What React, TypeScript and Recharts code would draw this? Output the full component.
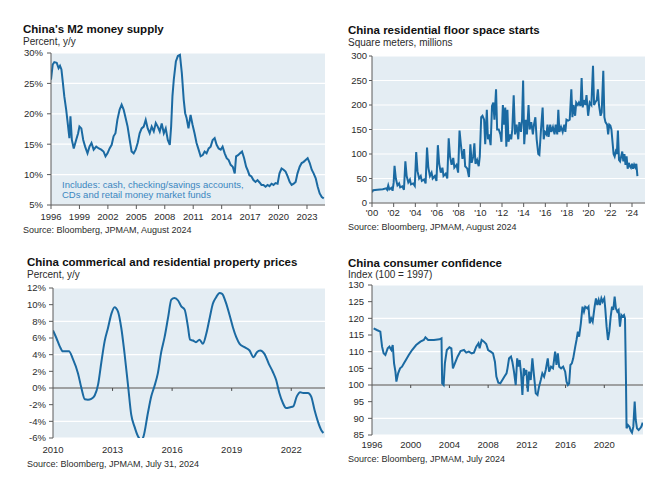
import React from 'react';
import { LineChart, Line, XAxis, YAxis, CartesianGrid, ReferenceLine } from 'recharts';

const FONT = '"Liberation Sans", Arial, Helvetica, sans-serif';
const LINE = '#1b6aa2';
const BG = '#e4edf3';
const AXIS = '#5a5a5a';
const TXT = '#2b2b2b';

// ---------- Panel 1: China's M2 money supply (percent y/y) ----------
const m2Dates = [1996.0, 1996.18, 1996.35, 1996.6, 1996.8, 1996.95, 1997.1, 1997.24, 1997.4, 1997.6, 1997.76, 1997.94, 1998.05, 1998.2, 1998.4, 1998.65, 1998.86, 1999.0, 1999.2, 1999.4, 1999.6, 1999.85, 2000.06, 2000.27, 2000.5, 2000.77, 2001.05, 2001.3, 2001.54, 2001.75, 2001.96, 2002.18, 2002.4, 2002.6, 2002.8, 2003.0, 2003.24, 2003.45, 2003.66, 2003.87, 2004.08, 2004.3, 2004.5, 2004.72, 2004.93, 2005.14, 2005.35, 2005.56, 2005.78, 2005.99, 2006.2, 2006.41, 2006.62, 2006.84, 2007.05, 2007.26, 2007.47, 2007.68, 2007.9, 2008.1, 2008.32, 2008.53, 2008.67, 2008.81, 2008.95, 2009.17, 2009.38, 2009.6, 2009.8, 2010.0, 2010.15, 2010.3, 2010.5, 2010.72, 2010.93, 2011.14, 2011.35, 2011.57, 2011.78, 2012.0, 2012.2, 2012.41, 2012.63, 2012.84, 2013.05, 2013.26, 2013.47, 2013.68, 2013.9, 2014.1, 2014.32, 2014.53, 2014.74, 2014.95, 2015.17, 2015.38, 2015.52, 2015.73, 2015.94, 2016.15, 2016.37, 2016.58, 2016.72, 2016.93, 2017.14, 2017.35, 2017.57, 2017.78, 2018.0, 2018.2, 2018.41, 2018.63, 2018.84, 2019.05, 2019.26, 2019.47, 2019.68, 2019.9, 2020.1, 2020.32, 2020.53, 2020.74, 2020.96, 2021.17, 2021.38, 2021.6, 2021.8, 2022.0, 2022.23, 2022.44, 2022.65, 2022.86, 2023.07, 2023.29, 2023.5, 2023.7, 2023.92, 2024.13, 2024.34, 2024.56, 2024.77];
const m2Values = [25.6, 28.1, 28.5, 28.4, 27.5, 27.9, 27.3, 25.3, 22.9, 20.7, 18.5, 16.0, 19.6, 15.7, 14.3, 15.7, 16.8, 17.9, 17.6, 15.7, 14.6, 13.5, 14.6, 15.2, 14.1, 14.6, 14.3, 14.1, 13.8, 13.0, 13.5, 14.3, 14.9, 16.3, 16.8, 19.0, 20.7, 21.5, 20.7, 19.3, 17.9, 15.7, 13.8, 13.5, 14.1, 15.2, 16.8, 17.6, 17.9, 19.0, 17.6, 16.8, 17.9, 17.1, 18.5, 17.9, 17.1, 18.4, 16.8, 17.6, 15.7, 14.9, 17.9, 22.9, 25.6, 28.6, 29.5, 29.7, 26.7, 22.3, 20.1, 19.3, 17.6, 19.8, 18.2, 16.8, 15.2, 14.1, 13.0, 13.2, 13.8, 13.5, 14.3, 14.6, 15.7, 16.0, 14.9, 14.3, 14.1, 14.6, 13.5, 12.7, 12.4, 11.6, 11.3, 10.2, 13.0, 13.2, 13.5, 13.8, 12.7, 11.3, 10.8, 9.9, 9.7, 9.1, 8.8, 9.1, 8.7, 8.3, 8.3, 8.0, 8.3, 8.1, 8.5, 8.3, 8.6, 8.5, 10.2, 11.0, 10.8, 10.5, 9.7, 8.8, 8.3, 8.5, 8.8, 10.2, 11.3, 11.9, 12.1, 12.4, 12.7, 11.9, 10.8, 10.2, 9.4, 8.0, 6.9, 6.3, 6.1];
const m2XTicks = [1996, 1999, 2002, 2005, 2008, 2011, 2014, 2017, 2020, 2023];
const m2YTicks = [5, 10, 15, 20, 25, 30];

// ---------- Panel 2: China residential floor space starts ----------
const fsDates = [2000.0, 2000.1, 2000.5, 2001.0, 2001.3, 2001.4, 2001.5, 2001.6, 2001.8, 2001.9, 2002.0, 2002.08, 2002.2, 2002.35, 2002.5, 2002.6, 2002.8, 2002.95, 2003.08, 2003.2, 2003.35, 2003.5, 2003.6, 2003.8, 2003.95, 2004.08, 2004.2, 2004.35, 2004.5, 2004.6, 2004.8, 2004.95, 2005.08, 2005.2, 2005.35, 2005.5, 2005.6, 2005.8, 2005.95, 2006.08, 2006.2, 2006.35, 2006.5, 2006.6, 2006.8, 2006.95, 2007.08, 2007.2, 2007.35, 2007.5, 2007.6, 2007.8, 2007.95, 2008.08, 2008.2, 2008.35, 2008.5, 2008.6, 2008.8, 2008.95, 2009.08, 2009.2, 2009.35, 2009.45, 2009.55, 2009.7, 2009.85, 2009.95, 2010.08, 2010.2, 2010.35, 2010.45, 2010.6, 2010.7, 2010.8, 2010.95, 2011.08, 2011.2, 2011.3, 2011.45, 2011.55, 2011.7, 2011.85, 2011.95, 2012.08, 2012.2, 2012.3, 2012.4, 2012.5, 2012.6, 2012.75, 2012.85, 2012.95, 2013.08, 2013.2, 2013.35, 2013.5, 2013.6, 2013.75, 2013.85, 2013.95, 2014.05, 2014.2, 2014.3, 2014.45, 2014.55, 2014.7, 2014.85, 2014.95, 2015.08, 2015.2, 2015.35, 2015.45, 2015.6, 2015.75, 2015.85, 2015.95, 2016.1, 2016.2, 2016.3, 2016.45, 2016.55, 2016.7, 2016.85, 2016.95, 2017.1, 2017.2, 2017.3, 2017.45, 2017.6, 2017.75, 2017.85, 2017.95, 2018.1, 2018.25, 2018.4, 2018.5, 2018.6, 2018.75, 2018.85, 2019.0, 2019.1, 2019.25, 2019.35, 2019.45, 2019.55, 2019.7, 2019.8, 2019.95, 2020.1, 2020.25, 2020.4, 2020.5, 2020.6, 2020.75, 2020.85, 2020.95, 2021.1, 2021.2, 2021.35, 2021.45, 2021.55, 2021.7, 2021.8, 2021.9, 2022.0, 2022.1, 2022.2, 2022.3, 2022.4, 2022.5, 2022.6, 2022.7, 2022.8, 2022.9, 2023.0, 2023.1, 2023.2, 2023.3, 2023.4, 2023.5, 2023.6, 2023.7, 2023.8, 2023.9, 2024.0, 2024.1, 2024.2, 2024.3, 2024.4, 2024.5];
const fsValues = [22, 26, 27, 28, 30, 27, 36, 28, 31, 25, 42, 76, 50, 36, 40, 32, 34, 27, 85, 55, 42, 48, 38, 40, 35, 104, 65, 50, 55, 45, 48, 40, 113, 72, 55, 62, 50, 55, 45, 118, 80, 62, 72, 55, 60, 50, 132, 95, 78, 92, 72, 78, 62, 148, 120, 90, 110, 75, 70, 53, 120, 82, 95, 122, 80, 88, 75, 95, 175, 178, 170, 120, 190, 130, 140, 118, 198, 205, 170, 232, 150, 150, 140, 125, 200, 160, 195, 115, 190, 125, 140, 130, 150, 220, 140, 160, 130, 165, 145, 170, 250, 120, 170, 140, 200, 150, 165, 140, 160, 175, 130, 100, 98, 150, 195, 130, 145, 140, 160, 135, 160, 145, 155, 140, 160, 140, 190, 145, 155, 145, 160, 145, 170, 168, 170, 232, 175, 200, 178, 205, 200, 205, 198, 255, 195, 210, 200, 220, 178, 205, 200, 280, 200, 205, 210, 232, 200, 178, 185, 270, 175, 165, 160, 140, 160, 158, 150, 125, 100, 95, 105, 100, 148, 88, 85, 95, 105, 85, 100, 78, 95, 70, 82, 75, 72, 80, 70, 78, 73, 80, 55];
const fsXTicks = [2000, 2002, 2004, 2006, 2008, 2010, 2012, 2014, 2016, 2018, 2020, 2022, 2024];
const fsYTicks = [0, 50, 100, 150, 200, 250, 300];

// ---------- Panel 3: China commercial and residential property prices ----------
const ppDates = [2010.0, 2010.17, 2010.34, 2010.5, 2010.67, 2010.8, 2011.0, 2011.26, 2011.43, 2011.6, 2011.76, 2011.93, 2012.1, 2012.27, 2012.43, 2012.6, 2012.77, 2012.94, 2013.1, 2013.27, 2013.44, 2013.6, 2013.78, 2013.94, 2014.1, 2014.28, 2014.45, 2014.56, 2014.78, 2014.95, 2015.1, 2015.28, 2015.45, 2015.62, 2015.8, 2015.96, 2016.12, 2016.3, 2016.46, 2016.63, 2016.8, 2016.9, 2017.05, 2017.2, 2017.38, 2017.55, 2017.72, 2017.9, 2018.05, 2018.22, 2018.39, 2018.52, 2018.7, 2018.9, 2019.06, 2019.23, 2019.4, 2019.65, 2019.9, 2020.1, 2020.27, 2020.44, 2020.65, 2020.87, 2021.07, 2021.24, 2021.4, 2021.58, 2021.74, 2021.95, 2022.1, 2022.28, 2022.45, 2022.6, 2022.84, 2023.0, 2023.17, 2023.34, 2023.5, 2023.62];
const ppValues = [6.9, 6.0, 5.0, 4.4, 4.4, 4.4, 3.5, 1.75, 0.0, -1.35, -1.4, -1.3, -0.9, 0.4, 3.0, 5.6, 7.2, 8.9, 9.7, 9.2, 7.2, 4.2, 0.3, -3.2, -4.6, -5.8, -6.2, -5.8, -3.0, -1.0, 0.15, 1.75, 4.3, 6.1, 8.5, 10.6, 10.8, 10.5, 9.8, 9.4, 7.3, 5.8, 5.7, 5.5, 5.8, 5.3, 6.5, 8.5, 10.1, 10.9, 11.4, 11.3, 10.3, 8.7, 7.3, 6.1, 5.3, 4.9, 4.5, 3.7, 4.3, 4.5, 4.1, 2.9, 1.95, 0.95, -0.6, -1.8, -2.4, -2.3, -2.2, -1.0, -0.5, -0.6, -0.6, -1.0, -2.6, -4.0, -5.0, -5.4];
const ppXTicks = [2010, 2013, 2016, 2019, 2022];
const ppYTicks = [-6, -4, -2, 0, 2, 4, 6, 8, 10, 12];

// ---------- Panel 4: China consumer confidence ----------
const ccDates = [1996.17, 1996.5, 1996.86, 1997.04, 1997.2, 1997.38, 1997.62, 1997.8, 1998.0, 1998.14, 1998.28, 1998.42, 1998.52, 1998.7, 1998.9, 1999.1, 1999.3, 1999.5, 1999.8, 2000.14, 2000.56, 2001.0, 2001.35, 2001.52, 2001.8, 2002.4, 2002.97, 2003.18, 2003.25, 2003.4, 2003.53, 2003.73, 2004.0, 2004.2, 2004.36, 2004.56, 2004.84, 2005.15, 2005.5, 2005.74, 2006.0, 2006.3, 2006.53, 2006.77, 2007.0, 2007.12, 2007.33, 2007.57, 2007.8, 2008.0, 2008.26, 2008.5, 2008.7, 2008.85, 2009.05, 2009.26, 2009.47, 2009.67, 2009.9, 2010.0, 2010.16, 2010.36, 2010.5, 2010.67, 2010.85, 2011.0, 2011.12, 2011.26, 2011.4, 2011.54, 2011.68, 2011.8, 2011.95, 2012.1, 2012.23, 2012.4, 2012.57, 2012.75, 2012.92, 2013.1, 2013.26, 2013.44, 2013.6, 2013.78, 2013.95, 2014.16, 2014.3, 2014.5, 2014.7, 2014.92, 2015.06, 2015.2, 2015.34, 2015.54, 2015.75, 2015.96, 2016.1, 2016.24, 2016.37, 2016.5, 2016.65, 2016.79, 2017.0, 2017.13, 2017.27, 2017.4, 2017.58, 2017.75, 2017.9, 2018.03, 2018.24, 2018.37, 2018.5, 2018.65, 2018.8, 2019.0, 2019.14, 2019.28, 2019.42, 2019.55, 2019.7, 2019.83, 2020.0, 2020.1, 2020.24, 2020.38, 2020.52, 2020.66, 2020.8, 2020.93, 2021.07, 2021.2, 2021.35, 2021.48, 2021.62, 2021.76, 2021.9, 2022.04, 2022.14, 2022.24, 2022.3, 2022.45, 2022.6, 2022.73, 2022.86, 2023.0, 2023.14, 2023.25, 2023.38, 2023.55, 2023.7, 2023.83, 2023.97];
const ccValues = [117, 116.5, 116, 111.5, 109.5, 109, 111, 111.5, 110.5, 112, 106.5, 104, 101, 103.5, 105, 105.5, 106.5, 107.5, 109, 110.5, 112, 113, 113.5, 114.3, 113.5, 113.5, 113.7, 114, 100.5, 100, 106.5, 110.5, 111.3, 111, 105, 106.5, 108.5, 110.2, 110.5, 109.7, 110, 109.5, 109.7, 111.5, 112.5, 111, 113.5, 113, 112.3, 110.5, 110, 109.5, 107, 102.5, 100.7, 100.5, 101.5, 102.5, 103.5, 105, 108, 108.5, 107, 104, 100, 108, 105.5, 107.5, 103.5, 97, 105, 103.5, 104.5, 98, 104, 101.5, 108, 102.5, 97.5, 97, 99.5, 101.5, 103.5, 102.5, 104.5, 108, 104, 105.5, 105, 110, 106, 109.5, 105.5, 105, 105.5, 104, 101, 100, 100.5, 106, 106.5, 108, 111.5, 113.5, 116, 114.5, 118.5, 123.5, 122, 123.5, 123, 123.5, 118.5, 120, 119, 123.5, 126, 124, 125.5, 124, 126, 125, 126, 123, 117.5, 113.5, 116, 120.5, 123.5, 122.5, 126.5, 123, 122, 122.5, 117.5, 121, 120.5, 121, 120, 101.5, 87, 88, 87.5, 86.3, 85.7, 87.5, 95, 89.5, 87, 86.5, 87, 87.5, 88.7];
const ccXTicks = [1996, 2000, 2004, 2008, 2012, 2016, 2020];
const ccYTicks = [85, 90, 95, 100, 105, 110, 115, 120, 125, 130];

const zip = (xs: number[], ys: number[]) => xs.map((x, i) => ({ x, y: ys[i] }));
const m2Data = zip(m2Dates, m2Values);
const fsData = zip(fsDates, fsValues);
const ppData = zip(ppDates, ppValues);
const ccData = zip(ccDates, ccValues);

const tickStyle = (size: number) => ({ fill: TXT, fontSize: size, fontFamily: FONT });

export default function App() {
  return (
    <div style={{ position: 'absolute', left: 0, top: 0, width: 652, height: 479, background: '#ffffff', overflow: 'hidden', fontFamily: FONT }}>
      {/* Panel 1 */}
      <div style={{ position: 'absolute', left: 0, top: 40 }}>
        <LineChart width={330} height={190} data={m2Data} margin={{ top: 13, right: 5, left: 6, bottom: 5 }}>
          <CartesianGrid vertical={false} fill={BG} stroke="#ffffff" strokeWidth={1.2} />
          <XAxis dataKey="x" type="number" domain={[1996, 2024.9]} ticks={m2XTicks} height={20}
            axisLine={{ stroke: AXIS }} tickLine={{ stroke: AXIS }} tickSize={4} tickMargin={4}
            tick={tickStyle(9.5)} allowDataOverflow />
          <YAxis type="number" domain={[5, 30]} ticks={m2YTicks} width={45} tickFormatter={(v: number) => `${v}%`}
            axisLine={{ stroke: AXIS }} tickLine={{ stroke: AXIS }} tickSize={4} tickMargin={4}
            tick={tickStyle(9.5)} allowDataOverflow />
          <Line type="linear" dataKey="y" stroke={LINE} strokeWidth={2} dot={false} isAnimationActive={false} />
        </LineChart>
      </div>

      {/* Panel 2 */}
      <div style={{ position: 'absolute', left: 320, top: 40 }}>
        <LineChart width={330} height={190} data={fsData} margin={{ top: 16, right: 5, left: 7, bottom: 7 }}>
          <CartesianGrid vertical={false} fill={BG} stroke="#ffffff" strokeWidth={1.2} />
          <XAxis dataKey="x" type="number" domain={[2000, 2025.2]} ticks={fsXTicks} height={20}
            tickFormatter={(v: number) => `'${String(v % 100).padStart(2, '0')}`}
            axisLine={{ stroke: AXIS }} tickLine={{ stroke: AXIS }} tickSize={4} tickMargin={2}
            tick={tickStyle(9.5)} allowDataOverflow />
          <YAxis type="number" domain={[0, 300]} ticks={fsYTicks} width={45}
            axisLine={{ stroke: AXIS }} tickLine={{ stroke: AXIS }} tickSize={3} tickMargin={2}
            tick={tickStyle(9.5)} allowDataOverflow />
          <Line type="linear" dataKey="y" stroke={LINE} strokeWidth={2} dot={false} isAnimationActive={false} />
        </LineChart>
      </div>

      {/* Panel 3 */}
      <div style={{ position: 'absolute', left: 0, top: 275 }}>
        <LineChart width={330} height={190} data={ppData} margin={{ top: 13, right: 5, left: 8, bottom: 7 }}>
          <CartesianGrid vertical={false} fill={BG} stroke="#ffffff" strokeWidth={1.2} />
          <XAxis dataKey="x" type="number" domain={[2010, 2023.7]} ticks={ppXTicks} height={20}
            axisLine={false} tickLine={false} tickSize={4} tickMargin={4}
            tick={tickStyle(9.5)} allowDataOverflow />
          <YAxis type="number" domain={[-6, 12]} ticks={ppYTicks} width={45} tickFormatter={(v: number) => `${v}%`}
            axisLine={{ stroke: AXIS }} tickLine={{ stroke: AXIS }} tickSize={4} tickMargin={3}
            tick={tickStyle(9.5)} allowDataOverflow />
          <ReferenceLine y={0} stroke="#4a4a4a" strokeWidth={1.2} />
          {ppXTicks.slice(1).map((t) => (
            <ReferenceLine key={t} segment={[{ x: t, y: 0 }, { x: t, y: -0.35 }]} stroke="#4a4a4a" strokeWidth={1} />
          ))}
          <Line type="monotone" dataKey="y" stroke={LINE} strokeWidth={2} dot={false} isAnimationActive={false} />
        </LineChart>
      </div>

      {/* Panel 4 */}
      <div style={{ position: 'absolute', left: 320, top: 275 }}>
        <LineChart width={330} height={190} data={ccData} margin={{ top: 10, right: 7, left: 7, bottom: 10 }}>
          <CartesianGrid vertical={false} fill={BG} stroke="#ffffff" strokeWidth={1.2} />
          <XAxis dataKey="x" type="number" domain={[1996, 2024.0]} ticks={ccXTicks} height={20}
            axisLine={false} tickLine={false} tickSize={4} tickMargin={2}
            tick={tickStyle(9.5)} allowDataOverflow />
          <YAxis type="number" domain={[85, 130]} ticks={ccYTicks} width={45}
            axisLine={{ stroke: AXIS }} tickLine={{ stroke: AXIS }} tickSize={4} tickMargin={4}
            tick={tickStyle(9.5)} allowDataOverflow />
          <ReferenceLine y={100} stroke="#4a4a4a" strokeWidth={1.2} />
          {ccXTicks.slice(1).map((t) => (
            <ReferenceLine key={t} segment={[{ x: t, y: 100 }, { x: t, y: 99.1 }]} stroke="#4a4a4a" strokeWidth={1} />
          ))}
          <Line type="linear" dataKey="y" stroke={LINE} strokeWidth={2} dot={false} isAnimationActive={false} />
        </LineChart>
      </div>

      {/* Text overlay */}
      <svg width={652} height={479} style={{ position: 'absolute', left: 0, top: 0, pointerEvents: 'none' }}>
        <g fontFamily={FONT}>
          <text x={23} y={32.5} fontSize={11.5} fontWeight="bold" fill="#111">China's M2 money supply</text>
          <text x={23} y={44.5} fontSize={10} fill={TXT}>Percent, y/y</text>
          <text x={62} y={187.5} fontSize={9.5} fill="#3b86bf">Includes: cash, checking/savings accounts,</text>
          <text x={62} y={197.5} fontSize={9.5} fill="#3b86bf">CDs and retail money market funds</text>
          <text x={23} y={233} fontSize={9} fill={TXT}>Source: Bloomberg, JPMAM, August 2024</text>

          <text x={348} y={33.5} fontSize={11.5} fontWeight="bold" fill="#111">China residential floor space starts</text>
          <text x={348} y={45.5} fontSize={10} fill={TXT}>Square meters, millions</text>
          <text x={348} y={229.5} fontSize={9} fill={TXT}>Source: Bloomberg, JPMAM, August 2024</text>

          <text x={27} y={266} fontSize={11.5} fontWeight="bold" fill="#111">China commerical and residential property prices</text>
          <text x={27} y={277.5} fontSize={10} fill={TXT}>Percent, y/y</text>
          <text x={27} y={467} fontSize={9} fill={TXT}>Source: Bloomberg, JPMAM, July 31, 2024</text>

          <text x={348} y={266.5} fontSize={11.5} fontWeight="bold" fill="#111">China consumer confidence</text>
          <text x={348} y={278} fontSize={10} fill={TXT}>Index (100 = 1997)</text>
          <text x={348} y={461.5} fontSize={9} fill={TXT}>Source: Bloomberg, JPMAM, July 2024</text>
        </g>
      </svg>
    </div>
  );
}
